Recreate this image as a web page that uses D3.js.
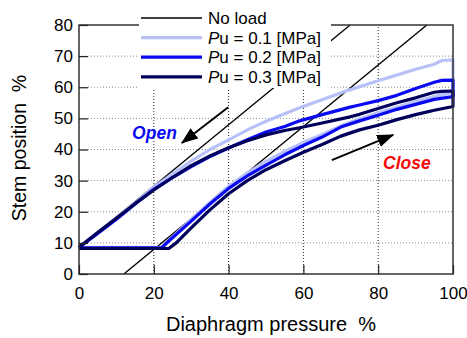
<!DOCTYPE html>
<html>
<head>
<meta charset="utf-8">
<script src="https://cdn.jsdelivr.net/npm/d3@7"></script>
<style>
  body { margin: 0; background: #fff; }
  text { font-family: Arial, "Liberation Sans", sans-serif; }
</style>
</head>
<body>
<svg id="chart" width="467" height="338"></svg>
<script>

const xTicks = [0, 20, 40, 60, 80, 100];
const yTicks = [0, 10, 20, 30, 40, 50, 60, 70, 80];

const seriesNames = ["No load", "0.1 [MPa]", "0.2 [MPa]", "0.3 [MPa]"];

// no-load reference lines
const noLoadOpen = [[0, 8.5], [72.5, 80]];
const noLoadClose = [[12, 0], [93, 80]];

// Pu = 0.1
const closeLight = [[0, 8.6], [22.5, 8.6], [24, 10.8], [30, 17.5], [35, 23], [40, 28.2], [45, 32.5], [50, 36.2], [55, 39.4], [60, 42.3], [65, 44.8], [70, 47.6], [75, 49.8], [80, 51.8], [85, 53.6], [90, 55.4], [95, 57], [100, 58.3]];
const openLight = [[100, 68.8], [97, 68.6], [95, 67.4], [90, 65.8], [86, 64.3], [80, 62.1], [72, 59], [65, 56], [59, 53.4], [50, 49.1], [45.7, 46.7], [40, 43.1], [35, 40], [30, 36.3], [25, 32.1], [20, 27.9], [15, 22.9], [10, 18.1], [5, 13.3], [0, 8.6]];

// Pu = 0.2
const closeBlue = [[0, 8.4], [22, 8.4], [24, 10.6], [30, 17], [35, 22.5], [40, 27.5], [45, 31.5], [50, 35], [55, 38.3], [60, 41.3], [65, 44], [70, 47.2], [75, 49.2], [80, 51], [85, 52.9], [90, 54.5], [95, 56.1], [100, 57]];
const openBlue = [[100, 62.3], [97, 62.2], [95, 61.6], [90, 59.6], [85, 57.4], [80, 55.7], [75, 54.3], [72.5, 53.6], [65, 51.2], [59, 49.2], [55, 47.4], [50, 45.6], [45, 43.1], [40, 40.5], [35, 37.7], [30, 34.5], [25, 31], [20, 27.2], [15, 22.5], [10, 17.6], [5, 13], [0, 8.5]];

// Pu = 0.3
const closeNavy = [[0, 8.2], [24, 8.2], [26, 10], [30, 14.8], [35, 20.6], [40, 25.8], [45, 30], [50, 33.5], [55, 36.4], [60, 39.1], [65, 41.6], [70, 44.3], [75, 46.3], [80, 47.8], [85, 49.6], [90, 51.2], [95, 52.6], [100, 53.8]];
const openNavy = [[100, 58.8], [97, 58.7], [95, 58.4], [90, 56.6], [85, 55], [80, 53.2], [75, 51.3], [72.5, 50.5], [65, 48.5], [59, 47], [55, 46.1], [50, 44.7], [45, 42.8], [40, 40.6], [35, 37.9], [30, 34.8], [25, 31], [20, 27], [15, 22.6], [10, 17.9], [5, 13.3], [0, 8.6]];

const openArrow = [[39.9, 53.6], [27.5, 42.1]];
const closeArrow = [[67.6, 36.6], [84, 44.7]];

const colors = ["#000000", "#b8c0f8", "#0a0af0", "#00005a"];

const margin = { left: 79, right: 14, top: 25, bottom: 64 };
const width = 467, height = 338;

const svg = d3.select("#chart");

const x = d3.scaleLinear()
  .domain([0, 100])
  .range([margin.left, width - margin.right]);

const y = d3.scaleLinear()
  .domain([0, 80])
  .range([height - margin.bottom, margin.top]);

const line = d3.line()
  .x(d => x(d[0]))
  .y(d => y(d[1]));

// grid
svg.append("g")
  .selectAll("line")
  .data(yTicks.slice(1, -1))
  .join("line")
  .attr("x1", x(0))
  .attr("x2", x(100))
  .attr("y1", d => y(d))
  .attr("y2", d => y(d))
  .attr("stroke", "#8c8c8c")
  .attr("stroke-width", 1)
  .attr("stroke-dasharray", "1,2");

svg.append("g")
  .selectAll("line")
  .data(xTicks.slice(1, -1))
  .join("line")
  .attr("x1", d => x(d))
  .attr("x2", d => x(d))
  .attr("y1", y(0))
  .attr("y2", y(80))
  .attr("stroke", "#222")
  .attr("stroke-width", 1)
  .attr("stroke-dasharray", "1,2");

// no-load lines
[noLoadOpen, noLoadClose].forEach(d => {
  svg.append("path")
    .attr("d", line(d))
    .attr("fill", "none")
    .attr("stroke", colors[0])
    .attr("stroke-width", 1.4);
});

// hysteresis loops
const loops = [
  [closeLight, openLight],
  [closeBlue, openBlue],
  [closeNavy, openNavy]
];

loops.forEach((l, i) => {
  svg.append("path")
    .attr("d", line(l[0].concat(l[1])))
    .attr("fill", "none")
    .attr("stroke", colors[i + 1])
    .attr("stroke-width", 3.2)
    .attr("stroke-linejoin", "round");
});

// arrows
svg.append("defs")
  .append("marker")
  .attr("id", "head")
  .attr("markerUnits", "userSpaceOnUse")
  .attr("viewBox", "0 0 16 12")
  .attr("refX", 15)
  .attr("refY", 6)
  .attr("markerWidth", 17)
  .attr("markerHeight", 13)
  .attr("orient", "auto")
  .append("path")
  .attr("d", "M0,0 L16,6 L0,12 Z")
  .attr("fill", "#000");

[openArrow, closeArrow].forEach(d => {
  svg.append("path")
    .attr("d", line(d))
    .attr("stroke", "#000")
    .attr("stroke-width", 2)
    .attr("marker-end", "url(#head)");
});

svg.append("text")
  .attr("x", x(14.2))
  .attr("y", y(43.4))
  .attr("fill", "#0a0af5")
  .attr("font-size", 17.5)
  .attr("font-weight", "bold")
  .attr("font-style", "italic")
  .text("Open");

svg.append("text")
  .attr("x", x(81.3))
  .attr("y", y(33.6))
  .attr("fill", "#f50a0a")
  .attr("font-size", 17.5)
  .attr("font-weight", "bold")
  .attr("font-style", "italic")
  .text("Close");

// frame and ticks
svg.append("rect")
  .attr("x", x(0))
  .attr("y", y(80))
  .attr("width", x(100) - x(0))
  .attr("height", y(0) - y(80))
  .attr("fill", "none")
  .attr("stroke", "#333")
  .attr("stroke-width", 1.5);

const xAxis = svg.append("g")
  .attr("transform", `translate(0,${y(0)})`)
  .call(
    d3.axisBottom(x)
      .tickValues(xTicks)
      .tickSize(-9)
      .tickPadding(13)
  );

const yAxis = svg.append("g")
  .attr("transform", `translate(${x(0)},0)`)
  .call(
    d3.axisLeft(y)
      .tickValues(yTicks)
      .tickSize(-9)
      .tickPadding(6)
  );

[xAxis, yAxis].forEach(a => {
  a.select(".domain").remove();
  a.selectAll(".tick line")
    .attr("stroke", "#222")
    .attr("stroke-width", 1.2);
  a.selectAll(".tick text")
    .attr("font-family", "Arial, 'Liberation Sans', sans-serif")
    .attr("font-size", 17)
    .attr("fill", "#000");
});

// legend
const legend = svg.append("g");

legend.append("rect")
  .attr("x", 139)
  .attr("y", 4)
  .attr("width", 192)
  .attr("height", 84)
  .attr("fill", "#fff");

seriesNames.forEach((name, i) => {
  const ly = 18 + i * 19.6;

  legend.append("line")
    .attr("x1", 141)
    .attr("x2", 202)
    .attr("y1", ly)
    .attr("y2", ly)
    .attr("stroke", colors[i])
    .attr("stroke-width", i === 0 ? 1.4 : 3.2);

  const t = legend.append("text")
    .attr("x", 208)
    .attr("y", ly + 6)
    .attr("font-size", 17)
    .attr("fill", "#000");

  if (i === 0) {
    t.text(name);
  } else {
    t.append("tspan").attr("font-style", "italic").text("P");
    t.append("tspan").text("u = " + name);
  }
});

// axis titles
svg.append("text")
  .attr("x", 271)
  .attr("y", 331)
  .attr("text-anchor", "middle")
  .attr("font-size", 20)
  .attr("xml:space", "preserve")
  .text("Diaphragm pressure  %");

svg.append("text")
  .attr("transform", "translate(26,148) rotate(-90)")
  .attr("text-anchor", "middle")
  .attr("font-size", 19.5)
  .attr("xml:space", "preserve")
  .text("Stem position  %");

</script>
</body>
</html>
